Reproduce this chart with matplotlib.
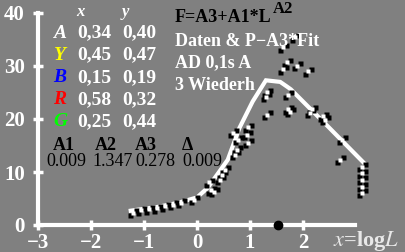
import matplotlib
matplotlib.use("Agg")
import matplotlib.pyplot as plt
from matplotlib.transforms import offset_copy

plt.rcParams['font.family'] = ['Liberation Serif', 'DejaVu Serif']
plt.rcParams['mathtext.fontset'] = 'stix'

# ---- data ----
data_x = [-1.21, -1.05, -0.9, -0.75, -0.6, -0.45, -0.3, -0.05, 0.22, 0.27, 0.32, 0.43,
          0.47, 0.53, 0.68, 0.72, 0.75, 0.77, 0.94, 0.96, 0.96, 1.32, 1.32, 1.30, 1.62,
          1.62, 1.70, 1.72, 1.72, 1.75, 1.85, 1.89, 2.09, 2.13, 2.17, 2.38, 2.42, 2.70,
          2.74, 3.11, 3.11, 3.11, 3.11, 3.11]
data_y = [2.3, 2.8, 3.0, 3.2, 3.5, 3.8, 4.2, 4.8, 8.1, 6.6, 6.3, 8.5,
          9.5, 10.4, 17.4, 13.3, 14.2, 16.1, 17.0, 15.5, 18.4, 25.0, 20.8, 24.2, 33.5,
          29.4, 30.7, 24.6, 21.8, 21.4, 35.4, 30.0, 29.0, 21.2, 21.8, 20.5, 19.9, 12.3,
          16.1, 11.0, 9.8, 8.5, 7.2, 6.1]
fit_x = [-1.25, -0.75, -0.35, 0.0, 0.2, 0.43, 0.58, 0.8, 1.05, 1.3, 1.57, 1.7, 1.77, 2.47, 3.17]
fit_y = [2.7, 3.4, 4.2, 5.2, 7.0, 10.2, 12.3, 18.3, 23.3, 27.3, 27.0, 26.1, 25.6, 18.6, 11.5]
peak_x = [1.53]
peak_y = [0.0]

x_ticks = [-3, -2, -1, 0, 1, 2]
y_ticks = [0, 10, 20, 30, 40]

table_names = ['A', 'Y', 'B', 'R', 'G']
table_colors = ['white', '#ffff00', '#0000ff', '#ff0000', '#00ff00']
table_x = ['0,34', '0,45', '0,15', '0,58', '0,25']
table_y = ['0,40', '0,47', '0,19', '0,32', '0,44']
param_names = ['A1', 'A2', 'A3', 'Δ']
param_vals = ['0.009', '1.347', '0.278', '0.009']

W, H = 405, 252
fig = plt.figure(figsize=(W / 100, H / 100), dpi=100)
fig.patch.set_facecolor('#808080')
ax = fig.add_axes([38 / W, 1 - 225 / H, 344.5 / W, 212 / H])
ax.set_facecolor('none')
ax.set_xlim(-3, 3.5)
ax.set_ylim(0, 40)

for s in ['top', 'right']:
    ax.spines[s].set_visible(False)
for s in ['left', 'bottom']:
    ax.spines[s].set_color('white')
    ax.spines[s].set_linewidth(3)
ax.spines['bottom'].set_bounds(-3, 2.98)
ax.spines['left'].set_bounds(0, 40)

ax.set_xticks(x_ticks)
ax.set_yticks(y_ticks)
ax.tick_params(colors='white', direction='inout', length=7, width=2.5,
               labelsize=15, pad=2)
for lab in ax.get_xticklabels() + ax.get_yticklabels():
    lab.set_fontweight('bold')
    lab.set_color('white')
ax.tick_params(axis='y', pad=6)

# fit line
ax.plot(fit_x, fit_y, color='white', lw=3, solid_joinstyle='miter', zorder=3)

# data markers: black/white/black diagonal groups
t_b1 = offset_copy(ax.transData, fig=fig, x=-3, y=-2.5, units='dots')
t_b2 = offset_copy(ax.transData, fig=fig, x=3, y=2.5, units='dots')
ax.plot(data_x, data_y, 's', ms=3.6, color='black', mec='none', transform=t_b1, zorder=4, clip_on=False)
ax.plot(data_x, data_y, 's', ms=3.6, color='black', mec='none', transform=t_b2, zorder=4, clip_on=False)
ax.plot(data_x, data_y, 's', ms=3, color='white', mec='none', zorder=5, clip_on=False)

ax.plot(peak_x, peak_y, 'o', ms=6, color='black', zorder=6, clip_on=False)

# x label
fig.text(333 / W, 1 - 241 / H, r'$x$=log$L$', color='#e8e8e8', fontsize=16,
         fontweight='bold', va='center', ha='left')

# table
fig.text(80 / W, 1 - 12 / H, 'x', color='white', fontsize=12, style='italic',
         fontweight='bold', ha='center', va='center')
fig.text(125 / W, 1 - 12 / H, 'y', color='white', fontsize=12, style='italic',
         fontweight='bold', ha='center', va='center')
rows_y = [33, 55, 78, 100, 122]
for n, c, tx, ty, ry in zip(table_names, table_colors, table_x, table_y, rows_y):
    fig.text(60 / W, 1 - ry / H, n, color=c, fontsize=14, style='italic',
             fontweight='bold', ha='center', va='center')
    fig.text(77 / W, 1 - ry / H, tx, color='white', fontsize=14,
             fontweight='bold', ha='left', va='center')
    fig.text(122 / W, 1 - ry / H, ty, color='white', fontsize=14,
             fontweight='bold', ha='left', va='center')

head_px = [64, 106, 146, 187]
val_px = [46, 92, 135, 182]
for n, v, hx, vx in zip(param_names, param_vals, head_px, val_px):
    fig.text(hx / W, 1 - 145 / H, n, color='black', fontsize=13,
             fontweight='bold', ha='center', va='center')
    fig.text(vx / W, 1 - 162 / H, v, color='black', fontsize=13,
             ha='left', va='center', zorder=1)

ftxt = fig.text(175 / W, 1 - 17 / H, 'F=A3+A1*L', color='black', fontsize=13,
                fontweight='bold', ha='left', va='center')
fig.canvas.draw()
bb = ftxt.get_window_extent()
fig.text((bb.x1 + 1) / W, 1 - 9 / H, 'A2', color='black', fontsize=12,
         fontweight='bold', ha='left', va='center')
for txt, yy in zip(['Daten & P−A3*Fit', 'AD 0,1s A', '3 Wiederh'], [41, 63, 86]):
    fig.text(175 / W, 1 - yy / H, txt, color='white', fontsize=13,
             fontweight='bold', ha='left', va='center')

fig.savefig('out.png', dpi=100, facecolor=fig.get_facecolor())
